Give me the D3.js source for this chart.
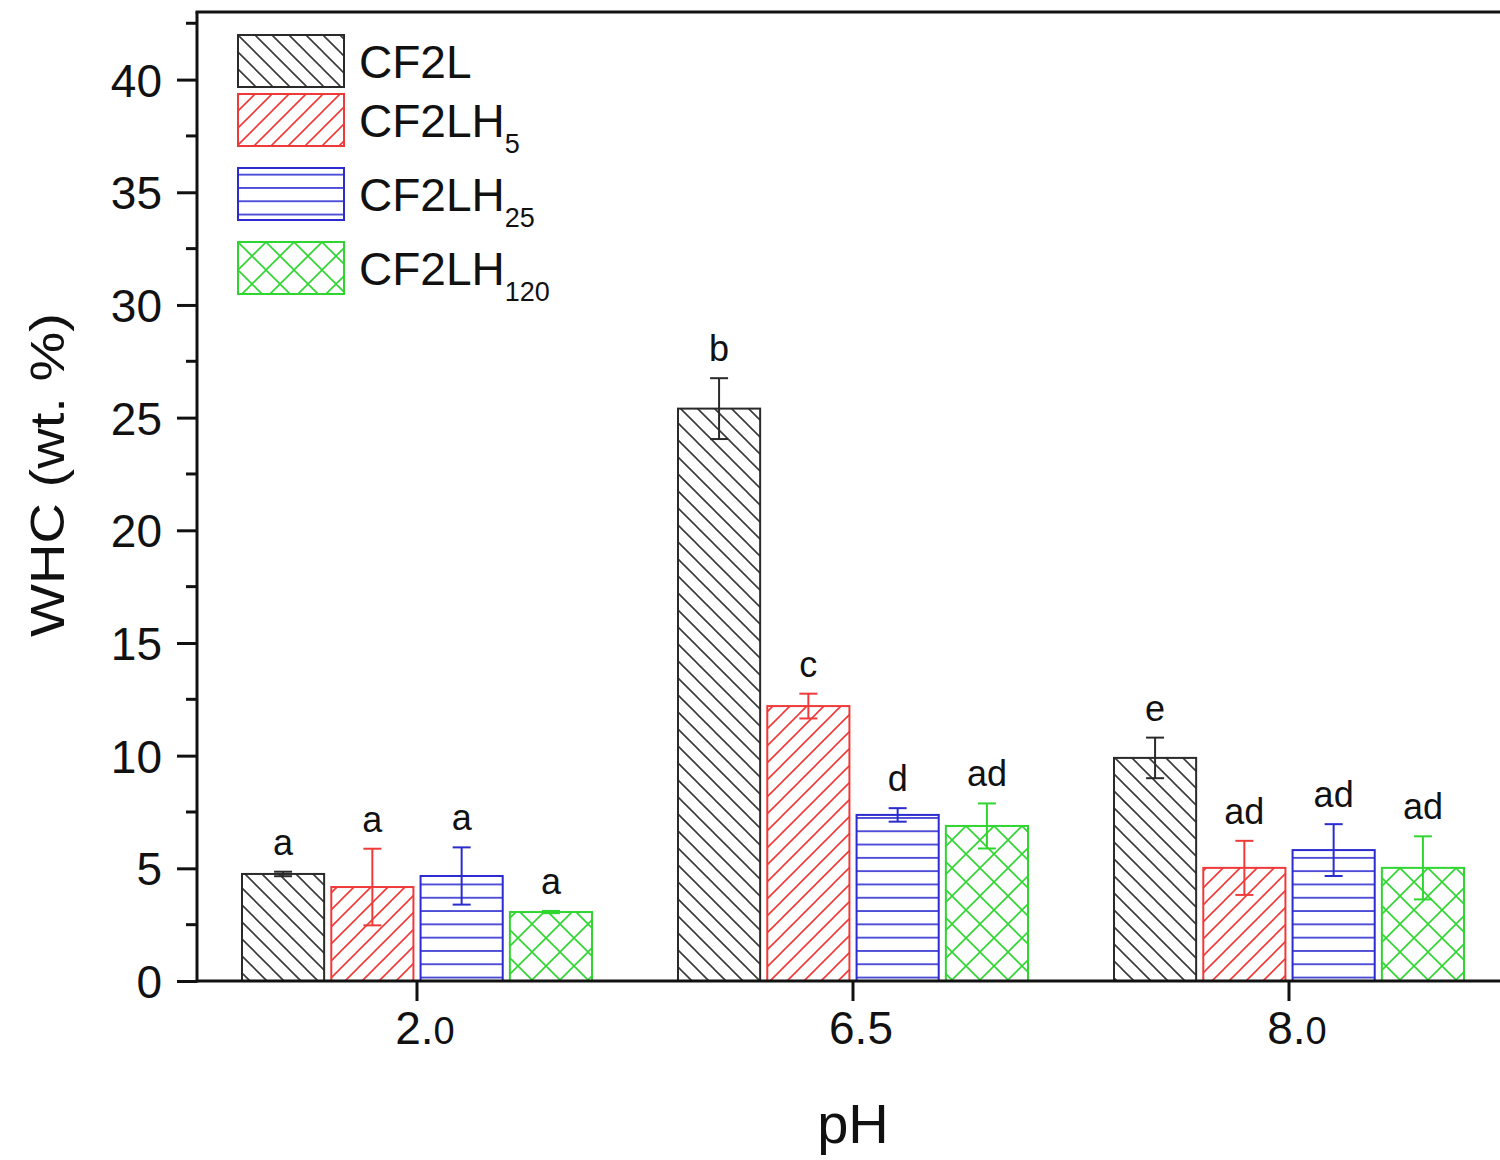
<!DOCTYPE html>
<html>
<head>
<meta charset="utf-8">
<script src="https://cdn.jsdelivr.net/npm/d3@7"></script>
<style>
  body { margin: 0; background: #fff; }
  text { font-family: "Liberation Sans", Arial, sans-serif; fill: #111; }
</style>
</head>
<body>
<div id="chart"></div>
<script>
// categories on x (pH)
var categories = ["2.0", "6.5", "8.0"];

// series names, split into base + subscript for the legend
var seriesNames = ["CF2L", "CF2LH5", "CF2LH25", "CF2LH120"];
var seriesBase = ["CF2L", "CF2LH", "CF2LH", "CF2LH"];
var seriesSub = ["", "5", "25", "120"];

// bar heights (WHC wt. %)
var cf2l = [4.75, 25.4, 9.9];
var cf2lh5 = [4.17, 12.2, 5.02];
var cf2lh25 = [4.66, 7.37, 5.81];
var cf2lh120 = [3.06, 6.88, 5.02];

// error bars (+/-)
var cf2lErr = [0.1, 1.35, 0.9];
var cf2lh5Err = [1.7, 0.55, 1.2];
var cf2lh25Err = [1.27, 0.3, 1.15];
var cf2lh120Err = [0.05, 1.0, 1.4];

// significance letters
var cf2lSig = ["a", "b", "e"];
var cf2lh5Sig = ["a", "c", "ad"];
var cf2lh25Sig = ["a", "d", "ad"];
var cf2lh120Sig = ["a", "ad", "ad"];

var yTicks = [0, 5, 10, 15, 20, 25, 30, 35, 40];

var colors = ["#2a2a2a", "#f03a3a", "#2b2bd0", "#2fd62f"];
var hatch = ["back", "fwd", "horiz", "cross"];

var values = [cf2l, cf2lh5, cf2lh25, cf2lh120];
var errs = [cf2lErr, cf2lh5Err, cf2lh25Err, cf2lh120Err];
var sigs = [cf2lSig, cf2lh5Sig, cf2lh25Sig, cf2lh120Sig];

var rows = [];
seriesNames.forEach(function(s, si){
	categories.forEach(function(c, ci){
		rows.push({series: s, si: si, cat: c, v: values[si][ci], e: errs[si][ci], sig: sigs[si][ci]});
	});
});

var W = 1500, H = 1160;
var svg = d3.select('#chart').append('svg')
	.attr('width', W)
	.attr('height', H);

svg.append('rect').attr('width', W).attr('height', H).attr('fill', '#fff');

var defs = svg.append('defs');

// hatch patterns
seriesNames.forEach(function(s, i){
	var p = defs.append('pattern')
		.attr('id', 'pat' + i)
		.attr('patternUnits', 'userSpaceOnUse');
	var col = i === 0 ? '#3a3a3a' : colors[i];
	var d, size;
	if (hatch[i] === 'back') {
		size = 17;
		d = 'M0,0L17,17M-8.5,8.5L8.5,25.5M8.5,-8.5L25.5,8.5';
	} else if (hatch[i] === 'fwd') {
		size = 17;
		d = 'M0,17L17,0M-8.5,8.5L8.5,-8.5M8.5,25.5L25.5,8.5';
	} else if (hatch[i] === 'horiz') {
		size = 13.3;
		d = 'M0,6.65L13.3,6.65';
	} else {
		size = 28;
		d = 'M0,0L28,28M-14,14L14,42M14,-14L42,14M0,28L28,0M-14,14L14,-14M14,42L42,14';
	}
	p.attr('width', size).attr('height', size);
	p.append('rect').attr('width', size).attr('height', size).attr('fill', '#fff');
	p.append('path').attr('d', d)
		.attr('stroke', col)
		.attr('stroke-width', 1.6)
		.attr('fill', 'none');
});

// scales
var x0 = d3.scaleBand().domain(categories).range([199, 1507]).padding(0);
var x1 = d3.scaleBand().domain(seriesNames).range([43, x0.bandwidth() - 43]).paddingInner(0.08);
var y = d3.scaleLinear().domain([0, 43]).range([981, 12]);

// bars
var bars = svg.append('g');
bars.selectAll('rect')
	.data(rows)
	.enter().append('rect')
	.attr('x', function(d){ return x0(d.cat) + x1(d.series); })
	.attr('y', function(d){ return y(d.v); })
	.attr('width', x1.bandwidth())
	.attr('height', function(d){ return y(0) - y(d.v); })
	.attr('fill', function(d){ return 'url(#pat' + d.si + ')'; })
	.attr('stroke', function(d){ return colors[d.si]; })
	.attr('stroke-width', 2);

// error bars
var eb = svg.append('g').selectAll('g')
	.data(rows)
	.enter().append('g')
	.attr('stroke', function(d){ return colors[d.si]; })
	.attr('stroke-width', 2);
var cx = function(d){ return x0(d.cat) + x1(d.series) + x1.bandwidth() / 2; };
eb.append('line')
	.attr('x1', cx).attr('x2', cx)
	.attr('y1', function(d){ return y(d.v + d.e); })
	.attr('y2', function(d){ return y(d.v - d.e); });
eb.append('line')
	.attr('x1', function(d){ return cx(d) - 9; }).attr('x2', function(d){ return cx(d) + 9; })
	.attr('y1', function(d){ return y(d.v + d.e); })
	.attr('y2', function(d){ return y(d.v + d.e); });
eb.append('line')
	.attr('x1', function(d){ return cx(d) - 9; }).attr('x2', function(d){ return cx(d) + 9; })
	.attr('y1', function(d){ return y(d.v - d.e); })
	.attr('y2', function(d){ return y(d.v - d.e); });

// letters above error bars
svg.append('g').selectAll('text')
	.data(rows)
	.enter().append('text')
	.attr('x', cx)
	.attr('y', function(d){ return y(d.v + d.e) - 17; })
	.attr('text-anchor', 'middle')
	.style('font-size', '36px')
	.text(function(d){ return d.sig; });

// y axis with minor ticks
var yAxis = svg.append('g')
	.attr('transform', 'translate(197,0)')
	.call(d3.axisLeft(y).tickValues(yTicks).tickSize(20).tickPadding(15).tickSizeOuter(0));
yAxis.select('.domain').remove();
yAxis.selectAll('.tick line').attr('stroke', '#111').attr('stroke-width', 3);
yAxis.selectAll('.tick text')
	.style('font-size', '46px')
	.attr('fill', '#111')
	.attr('dy', '0.36em');

var minor = d3.range(2.5, 43, 5);
svg.append('g').selectAll('line')
	.data(minor)
	.enter().append('line')
	.attr('x1', 186).attr('x2', 197)
	.attr('y1', function(d){ return y(d); })
	.attr('y2', function(d){ return y(d); })
	.attr('stroke', '#111').attr('stroke-width', 3);

// x axis
var xAxis = svg.append('g')
	.attr('transform', 'translate(0,981)')
	.call(d3.axisBottom(x0).tickSize(20).tickSizeOuter(0).tickFormat(''));
xAxis.select('.domain').remove();
xAxis.selectAll('.tick line').attr('stroke', '#111').attr('stroke-width', 3);

// tick labels, the trailing 0 is drawn smaller in the source
var xl = svg.append('g').selectAll('text')
	.data(categories)
	.enter().append('text')
	.attr('x', function(d){ return x0(d) + x0.bandwidth() / 2 + 8; })
	.attr('y', 1044)
	.attr('text-anchor', 'middle')
	.style('font-size', '46px');
xl.each(function(d){
	var t = d3.select(this);
	if (d.slice(-2) === '.0') {
		t.append('tspan').text(d.slice(0, -1));
		t.append('tspan').style('font-size', '38px').text('0');
	} else {
		t.text(d);
	}
});

// frame lines
svg.append('line').attr('x1', 197).attr('x2', 1500).attr('y1', 981).attr('y2', 981)
	.attr('stroke', '#111').attr('stroke-width', 3);
svg.append('line').attr('x1', 197).attr('x2', 197).attr('y1', 12).attr('y2', 982.5)
	.attr('stroke', '#111').attr('stroke-width', 3);
svg.append('line').attr('x1', 195.5).attr('x2', 1500).attr('y1', 12).attr('y2', 12)
	.attr('stroke', '#111').attr('stroke-width', 3);

// axis titles
svg.append('text')
	.attr('transform', 'translate(64,475) rotate(-90)')
	.attr('text-anchor', 'middle')
	.style('font-size', '48px')
	.attr('textLength', 324)
	.attr('lengthAdjust', 'spacingAndGlyphs')
	.text('WHC (wt. %)');

svg.append('text')
	.attr('x', 853).attr('y', 1143)
	.attr('text-anchor', 'middle')
	.style('font-size', '56px')
	.text('pH');

// legend
var legY = [];
var yy = 35;
seriesNames.forEach(function(s, i){
	legY.push(yy);
	yy += seriesSub[i] ? 74 : 59;
});

var leg = svg.append('g').selectAll('g')
	.data(seriesNames)
	.enter().append('g')
	.attr('transform', function(d, i){ return 'translate(238,' + legY[i] + ')'; });

leg.append('rect')
	.attr('width', 106).attr('height', 52)
	.attr('fill', function(d, i){ return 'url(#pat' + i + ')'; })
	.attr('stroke', function(d, i){ return colors[i]; })
	.attr('stroke-width', 2);

var lt = leg.append('text')
	.attr('x', 121).attr('y', 43)
	.style('font-size', '46px');
lt.append('tspan').text(function(d, i){ return seriesBase[i]; });
lt.append('tspan')
	.attr('dy', 16)
	.style('font-size', '27px')
	.text(function(d, i){ return seriesSub[i]; });
</script>
</body>
</html>
